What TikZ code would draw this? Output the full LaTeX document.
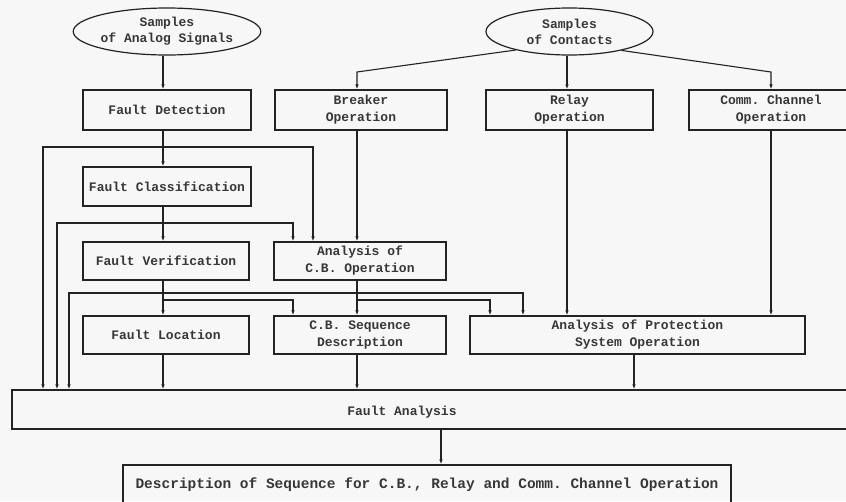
\documentclass[tikz,border=0pt]{standalone}
\usepackage{fontspec}
\setmonofont{Liberation Mono}
\usetikzlibrary{shapes.geometric,arrows.meta}
\definecolor{ink}{RGB}{35,35,35}
\definecolor{tink}{RGB}{55,55,55}
\definecolor{paper}{RGB}{247,247,247}
\tikzset{
  box/.style={draw=ink, line width=1.2pt, rectangle, inner sep=0pt, align=center,
    text=tink, font=\ttfamily\bfseries\fontsize{13}{17}\selectfont},
  oval/.style={draw=ink, line width=1.2pt, ellipse, inner sep=0pt, align=center,
    text=tink, font=\ttfamily\bfseries\fontsize{13}{16}\selectfont},
  lbl/.style={text=tink, inner sep=0pt, font=\ttfamily\bfseries\fontsize{13}{17}\selectfont},
  arr/.style={draw=ink, line width=1.1pt, -{Latex[length=5pt,width=3.5pt]}}
}
\begin{document}
\begin{tikzpicture}[x=1pt,y=-1pt]
\useasboundingbox (0,0) rectangle (846,501);
\clip (0,0) rectangle (846,501);
\fill[paper] (0,0) rectangle (846,501);

% column coordinates
\coordinate (cA) at (163,0);
\coordinate (cB) at (357,0);
\coordinate (cR) at (567,0);
\coordinate (cC) at (771,0);
\coordinate (cP) at (634,0);
\coordinate (l1) at (43,0);
\coordinate (l2) at (57,0);
\coordinate (l3) at (69,0);
\coordinate (b1) at (293,0);
\coordinate (b2) at (313,0);
\coordinate (p1) at (490,0);
\coordinate (p2) at (523,0);
\coordinate (cD) at (441,0);

% ellipses
\node[oval, minimum width=168, minimum height=47] (sa) at (167,31.5) {Samples\\of Analog Signals};
\node[oval, minimum width=167, minimum height=47] (sc) at (569.5,31.5) {Samples\\of Contacts};

% boxes
\node[box, minimum width=168, minimum height=40] (fd) at (167,110) {Fault Detection};
\node[box, minimum width=168, minimum height=39] (fc) at (167,186.5) {Fault Classification};
\node[box, minimum width=166, minimum height=38] (fv) at (166,261) {Fault Verification};
\node[box, minimum width=166, minimum height=38] (fl) at (166,335) {Fault Location};
\node[box, minimum width=172, minimum height=40] (bo) at (361,110) {Breaker\\Operation};
\node[box, minimum width=167, minimum height=40] (ro) at (569.5,110) {Relay\\Operation};
\node[box, minimum width=164, minimum height=40] (cc) at (771,110) {Comm. Channel\\Operation};
\node[box, minimum width=172, minimum height=38] (acb) at (360,261) {Analysis of\\C.B. Operation};
\node[box, minimum width=172, minimum height=38] (cbs) at (360,335) {C.B. Sequence\\Description};
\node[box, minimum width=335, minimum height=38] (aps) at (637.5,335) {Analysis of Protection\\System Operation};
\node[box, minimum width=850, minimum height=39] (fa) at (437,409.5) {};
\node[lbl] (falbl) at (402,412) {Fault Analysis};
\node[box, minimum width=608, minimum height=40, font=\ttfamily\bfseries\fontsize{14.5}{17}\selectfont] (desc) at (427,485) {Description of Sequence for C.B., Relay and Comm. Channel Operation};

% left column
\draw[arr] (sa.south -| cA) -- (fd.north -| cA);
\draw[arr] (fd.south -| cA) -- (fc.north -| cA);
\draw[arr] (fc.south -| cA) -- (fv.north -| cA);
\draw[arr] (fv.south -| cA) -- (fl.north -| cA);
\draw[arr] (fl.south -| cA) -- (fa.north -| cA);

\coordinate (j1) at (163,147);
\coordinate (j2) at (163,223);
\coordinate (j3) at (163,293);
\coordinate (j4) at (163,300);
\coordinate (j5) at (357,300);

\draw[arr] (j1) -| (fa.north -| l1);
\draw[arr] (j1) -| (acb.north -| b2);
\draw[arr] (j2) -| (fa.north -| l2);
\draw[arr] (j2) -| (acb.north -| b1);
\draw[arr] (j3) -| (fa.north -| l3);
\draw[arr] (j3) -| (aps.north -| p2);
\draw[arr] (j4) -| (cbs.north -| b1);

% breaker column
\draw[arr] (bo.south -| cB) -- (acb.north -| cB);
\draw[arr] (acb.south -| cB) -- (cbs.north -| cB);
\draw[arr] (cbs.south -| cB) -- (fa.north -| cB);
\draw[arr] (j5) -| (aps.north -| p1);

% contacts
\coordinate (k1) at (357,72);
\coordinate (k2) at (771,72);
\draw[arr] (sc.199) -- (k1) -- (bo.north -| cB);
\draw[arr] (sc.south -| cR) -- (ro.north -| cR);
\draw[arr] (sc.-20) -- (k2) -- (cc.north -| cC);

\draw[arr] (ro.south -| cR) -- (aps.north -| cR);
\draw[arr] (cc.south -| cC) -- (aps.north -| cC);
\draw[arr] (aps.south -| cP) -- (fa.north -| cP);

\draw[arr] (fa.south -| cD) -- (desc.north -| cD);
\end{tikzpicture}
\end{document}
